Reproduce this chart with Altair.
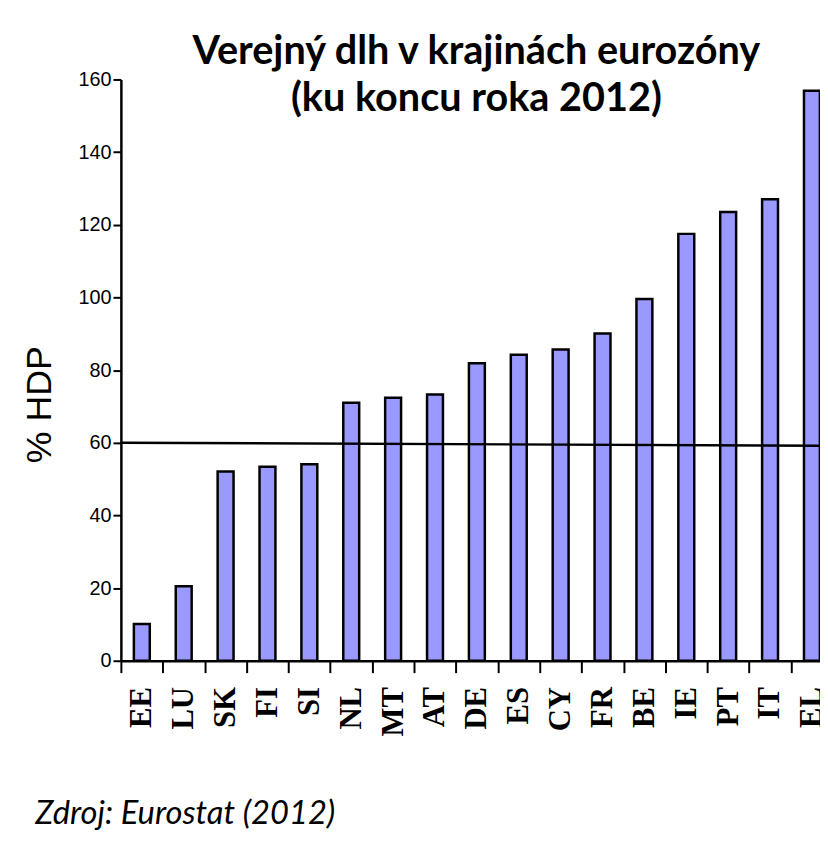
import altair as alt
import pandas as pd

countries = ["EE", "LU", "SK", "FI", "SI", "NL", "MT", "AT", "DE",
             "ES", "CY", "FR", "BE", "IE", "PT", "IT", "EL"]
debt = [10.1, 20.5, 52.1, 53.4, 54.1, 71.0, 72.4, 73.3, 81.9,
        84.2, 85.7, 90.1, 99.6, 117.5, 123.5, 127.0, 156.9]
y_ticks = [0, 20, 40, 60, 80, 100, 120, 140, 160]
limit_start = [60]
limit_end = [59.2]

title_lines = ["Verejný dlh v krajinách eurozóny", "(ku koncu roka 2012)"]
source_note = "Zdroj: Eurostat (2012)"
y_title = "% HDP"

W = 706
H = 587

df = pd.DataFrame({"country": countries, "debt": debt})
limit_df = pd.DataFrame({"start": limit_start, "end": limit_end})

x_enc = alt.X(
    "country:N",
    sort=countries,
    scale=alt.Scale(range=[0, 719], paddingInner=0, paddingOuter=0),
    axis=alt.Axis(
        title=source_note,
        titleFont="Lato", titleFontSize=33, titleFontStyle="italic",
        titleFontWeight="normal", titleColor="black",
        titleX=-87, titleY=154, titleAlign="left", titleBaseline="middle",
        titleAnchor="start",
        labelAngle=270, labelAlign="right", labelBaseline="middle",
        labelFont="Liberation Serif", labelFontSize=31, labelFontWeight="bold",
        labelColor="black", labelPadding=14, labelOverlap=False, labelBound=False,
        tickBand="extent", tickSize=12, tickWidth=2, tickColor="black",
        domainColor="black", domainWidth=2.5,
    ),
)

y_axis = alt.Axis(
    values=y_ticks, grid=False, ticks=True, domain=True,
    title=y_title, titleFont="Liberation Sans", titleFontSize=36,
    titleFontWeight="normal", titleColor="black",
    titleAngle=270, titleX=-82, titleY=328,
    titleAlign="center", titleBaseline="middle",
    labelFont="Liberation Sans", labelFontSize=20, labelColor="black",
    labelPadding=2, tickSize=8, tickWidth=2, tickColor="black",
    tickOpacity=1, domainColor="black", domainWidth=2.5,
)
y_scale = alt.Scale(domain=[0, 160], nice=False)

bars = alt.Chart(df).mark_bar(
    fill="#9999ff", stroke="black", strokeWidth=2.5, width={"band": 0.38}
).encode(x=x_enc, y=alt.Y("debt:Q", scale=y_scale, axis=y_axis))

rule = alt.Chart(limit_df).mark_rule(color="black", strokeWidth=2.5).encode(
    x=alt.value(0), x2=alt.value(W),
    y=alt.Y("start:Q", scale=y_scale, axis=y_axis), y2="end:Q"
)

chart = alt.layer(bars, rule).properties(
    width=W, height=H,
    autosize=alt.AutoSizeParams(type="none"),
    padding={"left": 114, "top": 68, "right": 0, "bottom": 191},
    title=alt.TitleParams(
        text=title_lines, font="Lato", fontSize=40, fontWeight="bold",
        color="black", anchor="middle", dx=6, dy=50, lineHeight=48,
        baseline="top", offset=0,
    ),
).configure(background="white").configure_view(
    stroke="white", strokeOpacity=0, strokeWidth=0
).configure_axisY(
    ticks=True, tickSize=8, tickWidth=2, tickColor="black", tickOpacity=1,
    domainColor="black", domainWidth=2.5
)

chart.save("out.html", embed_options={"renderer": "svg", "actions": False})
